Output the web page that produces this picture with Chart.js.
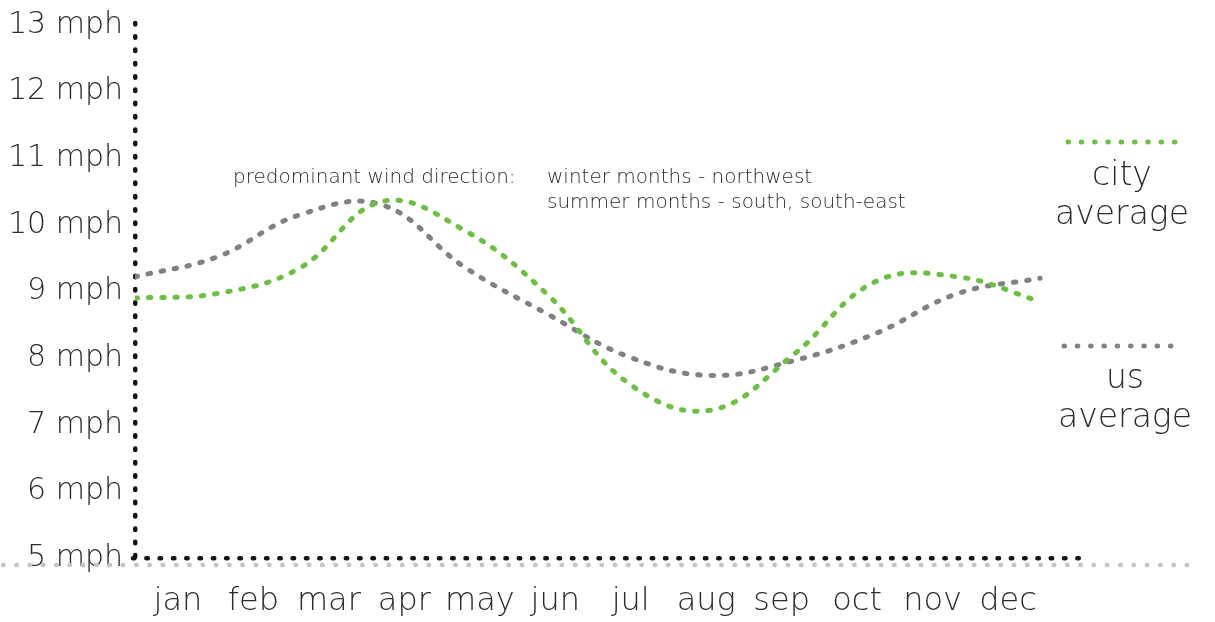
<!DOCTYPE html>
<html>
<head>
<meta charset="utf-8">
<title>average wind speed</title>
<script src="https://cdn.jsdelivr.net/npm/chart.js@4"></script>
<style>
    html, body { margin: 0; padding: 0; background: #ffffff; }
    #chartCanvas { display: block; }
</style>
</head>
<body>
<canvas id="chartCanvas" width="1215" height="622"></canvas>
<script>
// months and monthly average wind speed (mph)
const months = ['jan', 'feb', 'mar', 'apr', 'may', 'jun', 'jul', 'aug', 'sep', 'oct', 'nov', 'dec'];
const cityAverage = [8.90, 8.97, 9.35, 10.35, 9.92, 8.97, 7.62, 7.22, 8.05, 9.15, 9.22, 8.85];
const usAverage = [9.22, 9.52, 10.15, 10.30, 9.37, 8.67, 8.02, 7.74, 7.96, 8.37, 8.97, 9.20];
const yTicks = [5, 6, 7, 8, 9, 10, 11, 12, 13];
const seriesNames = [['city', 'average'], ['us', 'average']];
const noteLabel = 'predominant wind direction:';
const noteLines = ['winter months - northwest', 'summer months - south, south-east'];

const FONT = '"DejaVu Sans", "Noto Sans", sans-serif';
const TEXT_COLOR = '#2b2b2b';
const CITY_COLOR = '#6cbf44';
const US_COLOR = '#808085';
const DOTS = [1.5, 11.8];

function toPoints(values) {
    return values.map((v, i) => ({ x: i, y: v }));
}

// the scale border ignores dash settings, so set dotted round strokes up front
const dottedAxes = {
    id: 'dottedAxes',
    beforeDraw(chart) {
        chart.ctx.lineCap = 'round';
        chart.ctx.setLineDash(DOTS);
        chart.ctx.lineDashOffset = 0;
    }
};

// light dotted rule under the x axis, legend and the note text
const extras = {
    id: 'extras',
    afterDraw(chart) {
        const ctx = chart.ctx;
        const area = chart.chartArea;

        ctx.save();
        ctx.lineCap = 'round';
        ctx.lineWidth = 4.5;
        ctx.strokeStyle = '#c4c4c7';
        ctx.setLineDash([0.5, 12.8]);
        ctx.beginPath();
        ctx.moveTo(3, area.bottom + 7);
        ctx.lineTo(1200, area.bottom + 7);
        ctx.stroke();

        // legend
        const legendRows = [
            { lineY: 142, x0: 1068, x1: 1176, cx: 1122, base: [185, 224] },
            { lineY: 346, x0: 1064, x1: 1174, cx: 1125, base: [388, 427] }
        ];
        chart.data.datasets.forEach((ds, i) => {
            const row = legendRows[i];
            ctx.strokeStyle = ds.borderColor;
            ctx.lineWidth = 5;
            ctx.setLineDash([0.5, 12.8]);
            ctx.beginPath();
            ctx.moveTo(row.x0, row.lineY);
            ctx.lineTo(row.x1, row.lineY);
            ctx.stroke();

            ctx.fillStyle = TEXT_COLOR;
            ctx.font = '200 33px ' + FONT;
            ctx.textAlign = 'center';
            ctx.textBaseline = 'alphabetic';
            ds.label.forEach((txt, j) => ctx.fillText(txt, row.cx, row.base[j]));
        });

        // note
        ctx.font = '200 20px ' + FONT;
        ctx.textAlign = 'left';
        ctx.fillStyle = TEXT_COLOR;
        ctx.fillText(noteLabel, 233, 183);
        noteLines.forEach((txt, j) => ctx.fillText(txt, 547, 183 + j * 25));
        ctx.restore();
    }
};

function drawChart() {
    const chartCanvas = document.getElementById('chartCanvas');
    const ctx = chartCanvas.getContext('2d');

    const data = {
        datasets: [
            {
                label: seriesNames[0],
                data: toPoints(cityAverage),
                borderColor: CITY_COLOR,
                borderWidth: 5,
                borderDash: [2.5, 10.8],
                borderCapStyle: 'round',
                pointRadius: 0,
                tension: 0.4,
                fill: false
            },
            {
                label: seriesNames[1],
                data: toPoints(usAverage),
                borderColor: US_COLOR,
                borderWidth: 5,
                borderDash: [2.5, 10.8],
                borderCapStyle: 'round',
                pointRadius: 0,
                tension: 0.4,
                fill: false
            }
        ]
    };

    const config = {
        type: 'line',
        data: data,
        options: {
            responsive: false,
            animation: false,
            layout: {
                padding: { top: 25, right: 137, left: 0, bottom: 0 }
            },
            plugins: {
                legend: { display: false },
                title: { display: false },
                tooltip: { enabled: false }
            },
            scales: {
                x: {
                    type: 'linear',
                    display: false,
                    min: 0,
                    max: 11.46
                },
                xm: {
                    type: 'linear',
                    position: 'bottom',
                    min: -0.57,
                    max: 11.928,
                    afterBuildTicks: (axis) => {
                        axis.ticks = months.map((m, i) => ({ value: i }));
                    },
                    afterFit: (scale) => {
                        scale.height = 64;
                    },
                    grid: { display: false },
                    border: { display: true, color: '#141414', width: 4.5 },
                    ticks: {
                        autoSkip: false,
                        maxRotation: 0,
                        padding: 16,
                        color: TEXT_COLOR,
                        font: { family: FONT, size: 32, weight: 200 },
                        callback: (v) => months[v]
                    }
                },
                y: {
                    type: 'linear',
                    min: yTicks[0],
                    max: yTicks[yTicks.length - 1],
                    afterBuildTicks: (axis) => {
                        axis.ticks = yTicks.map((t) => ({ value: t }));
                    },
                    afterFit: (scale) => {
                        scale.width = 135;
                    },
                    grid: { display: false },
                    border: { display: true, color: '#141414', width: 4.5 },
                    ticks: {
                        padding: 4,
                        color: TEXT_COLOR,
                        font: { family: FONT, size: 30, weight: 200 },
                        callback: (v) => v + ' mph'
                    }
                }
            }
        },
        plugins: [dottedAxes, extras]
    };

    window.myChart = new Chart(ctx, config);
}

drawChart();
</script>
</body>
</html>
